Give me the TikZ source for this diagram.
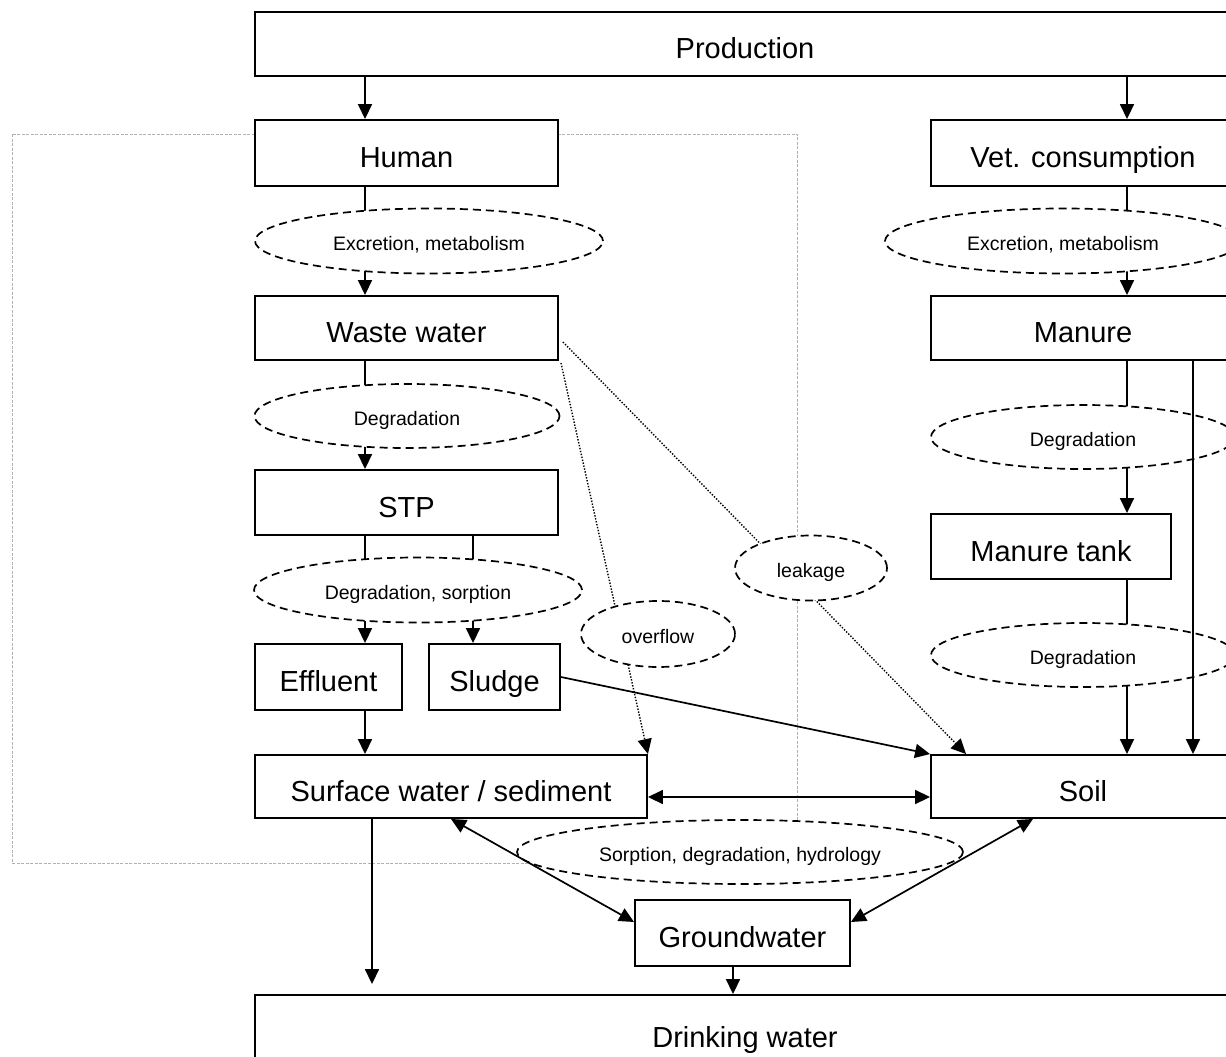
\documentclass[tikz,border=0pt]{standalone}
\usepackage{fontspec}
\setmainfont{Liberation Sans}
\usetikzlibrary{shapes.geometric,arrows.meta,backgrounds}
\begin{document}
\begin{tikzpicture}[x=1pt,y=-1pt,
  box/.style={draw, line width=1.9pt, fill=white, inner sep=0pt, text height=29pt, text depth=0pt, font=\fontsize{29}{34}\selectfont},
  proc/.style={ellipse, draw, dash pattern=on 8pt off 5pt, line width=1.7pt, fill=white, inner sep=0pt, text height=18pt, text depth=0pt, font=\fontsize{19.5}{23}\selectfont},
  tip/.tip={Triangle[length=15pt,width=14pt]},
  arr/.style={line width=1.7pt, -tip},
  darr/.style={line width=1.7pt, tip-tip},
  plain/.style={line width=1.7pt},
  dotline/.style={line width=1.4pt, dash pattern=on 1.4pt off 1.6pt},
  grayrect/.style={draw=black!30, line width=1pt, dash pattern=on 3pt off 1.5pt},
]
\useasboundingbox (0,0) rectangle (1226,1057);

% column coordinates
\coordinate (cL) at (365,0);
\coordinate (cR) at (1127,0);
\coordinate (cS) at (473,0);
\coordinate (cM) at (1193,0);
\coordinate (cD) at (372,0);
\coordinate (cG) at (733,0);
\coordinate (cH) at (0,797);

% boxes
\node[box, minimum width=980pt, minimum height=64pt] (prod) at (745,44) {Production};
\node[box, minimum width=303pt, minimum height=66pt] (human) at (406.5,153) {Human};
\node[box, minimum width=304pt, minimum height=66pt] (vet) at (1083,153) {Vet. consumption};
\node[box, minimum width=303pt, minimum height=64pt] (waste) at (406.5,328) {Waste water};
\node[box, minimum width=304pt, minimum height=64pt] (manure) at (1083,328) {Manure};
\node[box, minimum width=303pt, minimum height=65pt] (stp) at (406.5,502.5) {STP};
\node[box, minimum width=240pt, minimum height=65pt] (tank) at (1051,546.5) {Manure tank};
\node[box, minimum width=147pt, minimum height=66pt] (effluent) at (328.5,677) {Effluent};
\node[box, minimum width=131pt, minimum height=66pt] (sludge) at (494.5,677) {Sludge};
\node[box, minimum width=392pt, minimum height=63pt] (surface) at (451,786.5) {Surface water / sediment};
\node[box, minimum width=304pt, minimum height=63pt] (soil) at (1083,786.5) {Soil};
\node[box, minimum width=215pt, minimum height=66pt] (ground) at (742.5,933) {Groundwater};
\node[box, minimum width=980pt, minimum height=84pt, text height=21pt] (drink) at (745,1037) {Drinking water};

% process ellipses
\node[proc, minimum width=348pt, minimum height=65pt] (ex1) at (429,241) {Excretion, metabolism};
\node[proc, minimum width=356pt, minimum height=65pt] (ex2) at (1063,241) {Excretion, metabolism};
\node[proc, minimum width=305pt, minimum height=64pt] (deg1) at (407,416) {Degradation};
\node[proc, minimum width=328pt, minimum height=65pt] (degsorp) at (418,590) {Degradation, sorption};
\node[proc, minimum width=154pt, minimum height=66pt] (overflow) at (658,634) {overflow};
\node[proc, minimum width=152pt, minimum height=65pt] (leakage) at (811,568) {leakage};
\node[proc, minimum width=304pt, minimum height=64pt] (deg2) at (1083,437) {Degradation};
\node[proc, minimum width=304pt, minimum height=64pt] (deg3) at (1083,655) {Degradation};
\node[proc, minimum width=446pt, minimum height=64pt] (sorp) at (740,852) {Sorption, degradation, hydrology};

% background: page, grouping frame, connectors passing through ellipses
\begin{scope}[on background layer]
  \fill[white] (0,0) rectangle (1226,1057);
  \draw[grayrect] (12,134) rectangle (797,863);
  \draw[plain] (human.south -| cL) -- (ex1.center -| cL);
  \draw[arr] (ex1.center -| cL) -- (waste.north -| cL);
  \draw[plain] (vet.south -| cR) -- (ex2.center -| cR);
  \draw[arr] (ex2.center -| cR) -- (manure.north -| cR);
  \draw[plain] (waste.south -| cL) -- (deg1.center -| cL);
  \draw[arr] (deg1.center -| cL) -- (stp.north -| cL);
  \draw[plain] (stp.south -| cL) -- (degsorp.center -| cL);
  \draw[arr] (degsorp.center -| cL) -- (effluent.north -| cL);
  \draw[plain] (stp.south -| cS) -- (degsorp.center -| cS);
  \draw[arr] (degsorp.center -| cS) -- (sludge.north -| cS);
  \draw[plain] (manure.south -| cR) -- (deg2.center -| cR);
  \draw[arr] (deg2.center -| cR) -- (tank.north -| cR);
  \draw[plain] (tank.south -| cR) -- (deg3.center -| cR);
  \draw[arr] (deg3.center -| cR) -- (soil.north -| cR);
  \draw[dotline, -tip] ([xshift=2pt,yshift=-2pt]waste.south east) -- (surface.north east);
  \draw[dotline, -tip] ([xshift=4pt,yshift=-14pt]waste.east) -- ([xshift=36pt]soil.north west);
\end{scope}

% foreground connectors
\draw[arr] (prod.south -| cL) -- (human.north -| cL);
\draw[arr] (prod.south -| cR) -- (vet.north -| cR);
\draw[arr] (effluent.south -| cL) -- (surface.north -| cL);
\draw[arr] (sludge.east) -- (soil.north west);
\draw[arr] (manure.south -| cM) -- (soil.north -| cM);
\draw[darr] (surface.east |- cH) -- (soil.west |- cH);
\draw[arr, shorten >=10pt] (surface.south -| cD) -- (drink.north -| cD);
\draw[arr] (ground.south -| cG) -- (drink.north -| cG);
\draw[darr] (surface.south) -- ([yshift=11pt]ground.west);
\draw[darr] ([xshift=-50pt]soil.south) -- ([yshift=11pt]ground.east);
\end{tikzpicture}
\end{document}
